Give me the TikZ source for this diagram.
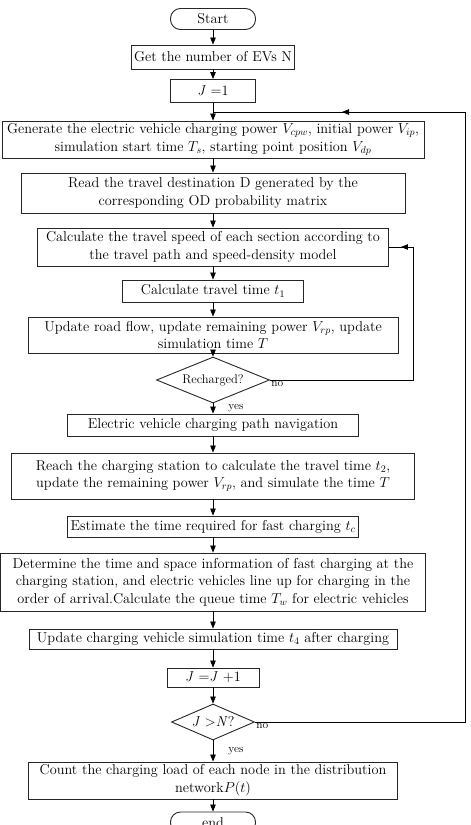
\documentclass[tikz,border=0pt]{standalone}
\usetikzlibrary{arrows.meta,shapes.geometric,decorations.markings}
\tikzset{
    caja/.style={draw=black!85, line width=0.9pt, align=center, inner sep=2pt,
        font=\fontsize{14.3}{17.5}\selectfont},
    term/.style={caja, rounded corners=10pt},
    rombo/.style={diamond, draw=black!85, line width=0.9pt, inner sep=0pt, aspect=2.4},
    flecha/.style={-{Triangle[length=7pt,width=5.5pt]}, line width=0.8pt},
    lazo/.style={line width=0.8pt, postaction={decorate},
        decoration={markings, mark=at position -#1 with {\arrow{Triangle[length=7pt,width=5.5pt]}}}},
    etiqueta/.style={font=\fontsize{11.5}{13}\selectfont, inner sep=1pt}
}
\begin{document}
\begin{tikzpicture}[x=1pt,y=-1pt]
    \def\xc{213}     % eje central
    \def\xint{415}   % lazo interior
    \def\xext{465}   % lazo exterior
    \def\ylazo{112}  % retorno a J=1

    \useasboundingbox (0,0) rectangle (471,825);

    % cajas del proceso
    \node[term, minimum width=85, minimum height=21] (start) at (\xc,19) {Start};
    \node[caja, minimum width=163, minimum height=24] (nev) at (\xc,57) {Get the number of EVs N};
    \node[caja, minimum width=85, minimum height=23] (j1) at (\xc,91) {\textit{J} =1};
    \node[caja, minimum width=422, minimum height=37] (gen) at (\xc,139.5)
        {Generate the electric vehicle charging power $V_{cpw}$, initial power $V_{ip}$,\\
         simulation start time $T_s$, starting point position $V_{dp}$};
    \node[caja, minimum width=384, minimum height=40] (read) at (\xc,193)
        {Read the travel destination D generated by the\\ corresponding OD probability matrix};
    \node[caja, minimum width=351, minimum height=38] (speed) at (\xc,247)
        {Calculate the travel speed of each section according to\\ the travel path and speed-density model};
    \node[caja, minimum width=181, minimum height=22] (t1) at (\xc,291) {Calculate travel time $t_1$};
    \node[caja, minimum width=370, minimum height=36] (upd) at (\xc,335)
        {Update road flow, update remaining power $V_{rp}$, update\\ simulation time $T$};
    \node[rombo, minimum width=113, minimum height=46, font=\fontsize{12.5}{14}\selectfont] (rech) at (\xc,380) {Recharged?};
    \node[caja, minimum width=291, minimum height=22] (nav) at (\xc,425) {Electric vehicle charging path navigation};
    \node[caja, minimum width=403, minimum height=46] (reach) at (\xc,476)
        {Reach the charging station to calculate the travel time $t_2$,\\
         update the remaining power $V_{rp}$, and simulate the time $T$};
    \node[caja, minimum width=291, minimum height=21] (est) at (\xc,526.5) {Estimate the time required for fast charging $t_c$};
    \node[caja, minimum width=425, minimum height=58] (det) at (\xc,582)
        {Determine the time and space information of fast charging at the\\
         charging station, and electric vehicles line up for charging in the\\
         order of arrival.Calculate the queue time $T_w$ for electric vehicles};
    \node[caja, minimum width=368, minimum height=20] (updc) at (\xc,639)
        {Update charging vehicle simulation time $t_4$ after charging};
    \node[caja, minimum width=92, minimum height=19] (jinc) at (\xc,677.5) {\textit{J} =\textit{J} +1};
    \node[rombo, minimum width=83, minimum height=36, font=\fontsize{14.3}{15}\selectfont] (jgt) at (\xc,722) {\textit{J} >\textit{N}?};
    \node[caja, minimum width=369, minimum height=37] (count) at (\xc,780.5)
        {Count the charging load of each node in the distribution\\ network$P(t)$};
    \node[term, minimum width=85, minimum height=21] (end) at (\xc,822.5) {end};

    \coordinate (unir) at (\xc,\ylazo);
    \coordinate (esquina) at (\xext,\ylazo);

    % flechas principales
    \draw[flecha] (start) -- (nev);
    \draw[flecha] (nev) -- (j1);
    \draw[flecha] (j1) -- (gen);
    \draw[flecha] (gen) -- (read);
    \draw[flecha] (read) -- (speed);
    \draw[flecha] (speed) -- (t1);
    \draw[flecha] (t1) -- (upd);
    \draw[flecha] (upd) -- (rech);
    \draw[flecha] (rech) -- node[etiqueta, right, xshift=14pt] {yes} (nav);
    \draw[flecha] (nav) -- (reach);
    \draw[flecha] (reach) -- (est);
    \draw[flecha] (est) -- (det);
    \draw[flecha] (det) -- (updc);
    \draw[flecha] (updc) -- (jinc);
    \draw[flecha] (jinc) -- (jgt);
    \draw[flecha] (jgt) -- node[etiqueta, right, xshift=14pt] {yes} (count);
    \draw[flecha] (count) -- (end);

    % lazos de retorno
    \draw[lazo=12pt] (rech.east) node[etiqueta, below right] {no} -| ([xshift=24pt]speed.east) -- (speed.east);
    \draw[lazo=129pt] (jgt.east) node[etiqueta, below right] {no} -| (esquina) -- (unir);
\end{tikzpicture}
\end{document}
